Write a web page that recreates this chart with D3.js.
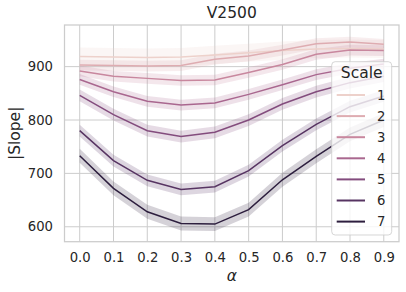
<!DOCTYPE html>
<html><head><meta charset="utf-8">
<script src="https://cdn.jsdelivr.net/npm/d3@7/dist/d3.min.js"></script>
<style>
html,body{margin:0;padding:0;background:#fff;}
svg text{font-family:"DejaVu Sans",sans-serif;fill:#262626;}
</style></head>
<body><svg id="c" width="406" height="292"></svg>
<script>
const alphas = [0.0,0.1,0.2,0.3,0.4,0.5,0.6,0.7,0.8,0.9];
const scales = [1,2,3,4,5,6,7];
const slope1 = [919,918,917,918,922,926,930,933,934,933];
const slope2 = [903,902,901,902,914,920,931,943,946,942];
const slope3 = [892,882,878,874,875,889,904,923,931,930];
const slope4 = [876,853,835,828,832,848,866,885,897,905];
const slope5 = [846,810,780,769,777,800,830,853,870,882];
const slope6 = [780,724,687,670,675,705,752,792,825,845];
const slope7 = [733,672,628,606,605,632,688,732,773,800];
const ciHalf = [17,10,10,10,11,11,13];
const yTicks = [600,700,800,900];
const xTicks = alphas;
const seriesVals = [slope1,slope2,slope3,slope4,slope5,slope6,slope7];

// seaborn default "ch:" cubehelix colormap
function cubehelix(x){
  const s=0,r=0.4,h=0.8,g=1;
  const xg=Math.pow(x,g), a=h*xg*(1-xg)/2, phi=2*Math.PI*(s/3+r*x);
  const c=Math.cos(phi), sn=Math.sin(phi);
  const cl=v=>Math.max(0,Math.min(1,v));
  const R=cl(xg+a*(-0.14861*c+1.78277*sn)), G=cl(xg+a*(-0.29227*c-0.90649*sn)), B=cl(xg+a*(1.97294*c));
  return d3.rgb(R*255,G*255,B*255).formatHex();
}
function hueColor(k){
  const t=(k-scales[0])/(scales[scales.length-1]-scales[0]);
  const idx=Math.min(255,Math.floor(t*256));
  return cubehelix(0.85-0.7*idx/255);
}

const svg=d3.select("#c");
const L=64.5,R=399,T=25,B=241.7;
const x=d3.scaleLinear().domain([-0.045,0.945]).range([L,R]);
const y=d3.scaleLinear().domain([572,978]).range([B,T]);

// grid
const grid=svg.append("g");
grid.selectAll("line.gx").data(xTicks).enter().append("line")
  .attr("x1",d=>x(d)).attr("x2",d=>x(d)).attr("y1",T).attr("y2",B)
  .attr("stroke","#cccccc").attr("stroke-width",1);
grid.selectAll("line.gy").data(yTicks).enter().append("line")
  .attr("y1",d=>y(d)).attr("y2",d=>y(d)).attr("x1",L).attr("x2",R)
  .attr("stroke","#cccccc").attr("stroke-width",1);

// axes
const ax=svg.append("g").attr("transform",`translate(0,${B})`)
  .call(d3.axisBottom(x).tickValues(xTicks).tickFormat(d3.format(".1f")).tickSize(0).tickPadding(11));
const ay=svg.append("g").attr("transform",`translate(${L},0)`)
  .call(d3.axisLeft(y).tickValues(yTicks).tickSize(0).tickPadding(11.5));
[ax,ay].forEach(g=>{g.select(".domain").remove();g.selectAll("text").attr("font-size","13.2px").attr("fill","#262626").attr("font-family","DejaVu Sans");});

// bands
seriesVals.forEach((vals,si)=>{
  svg.append("path").datum(vals)
    .attr("d",d3.area().x((d,i)=>x(alphas[i])).y0(d=>y(d-ciHalf[si])).y1(d=>y(d+ciHalf[si])))
    .attr("fill",hueColor(scales[si])).attr("fill-opacity",0.2).attr("stroke","none");
});
// lines
seriesVals.forEach((vals,si)=>{
  svg.append("path").datum(vals)
    .attr("d",d3.line().x((d,i)=>x(alphas[i])).y(d=>y(d)))
    .attr("fill","none").attr("stroke",hueColor(scales[si])).attr("stroke-width",1.5);
});

// frame
svg.append("rect").attr("x",L).attr("y",T).attr("width",R-L).attr("height",B-T)
  .attr("fill","none").attr("stroke","#cccccc").attr("stroke-width",1.25);

// titles
svg.append("text").attr("x",(L+R)/2).attr("y",18.3).attr("text-anchor","middle")
  .attr("font-size","15.5px").text("V2500");
svg.append("text").attr("x",(L+R)/2).attr("y",281).attr("text-anchor","middle")
  .attr("font-size","15.5px").attr("font-style","italic").text("α");
svg.append("text").attr("transform",`translate(19.8,${(T+B)/2}) rotate(-90)`).attr("text-anchor","middle")
  .attr("font-size","15.5px").text("|Slope|");

// legend
const lg=svg.append("g");
lg.append("rect").attr("x",331.7).attr("y",61.7).attr("width",60).attr("height",173.3).attr("rx",3.5)
  .attr("fill","#ffffff").attr("fill-opacity",0.8).attr("stroke","#cccccc").attr("stroke-opacity",0.8).attr("stroke-width",1);
lg.append("text").attr("x",361.7).attr("y",78.3).attr("text-anchor","middle").attr("font-size","15.5px").text("Scale");
scales.forEach((k,i)=>{
  const cy=95+i*21.1;
  lg.append("line").attr("x1",336.7).attr("x2",365).attr("y1",cy).attr("y2",cy)
    .attr("stroke",hueColor(k)).attr("stroke-width",2);
  lg.append("text").attr("x",377).attr("y",cy).attr("dy","0.36em").attr("font-size","13.2px").text(String(k));
});
</script></body></html>
